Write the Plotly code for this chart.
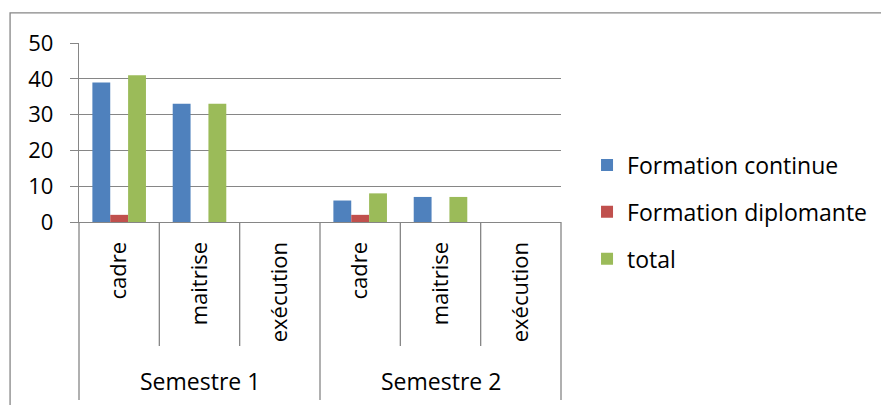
import plotly.graph_objects as go

# Chart data
semesters = ["Semestre 1", "Semestre 2"]
categories = ["cadre", "maitrise", "exécution"]
formation_continue = [39, 33, 0, 6, 7, 0]
formation_diplomante = [2, 0, 0, 2, 0, 0]
total = [41, 33, 0, 8, 7, 0]

series = [
    ("Formation continue", formation_continue, "#4F81BD"),
    ("Formation diplomante", formation_diplomante, "#C0504D"),
    ("total", total, "#9BBB59"),
]

GRID = "#868686"
FONT = "Open Sans"
SIZE = 22
BIG = 23

n_cat = len(categories)
positions = list(range(len(semesters) * n_cat))
tick_text = categories * len(semesters)

fig = go.Figure()
for i, (name, vals, color) in enumerate(series):
    fig.add_trace(go.Bar(
        x=positions, y=vals, name=name, legendgroup=f"g{i}",
        marker=dict(color=color, line=dict(width=0)),
    ))

x_min, x_max = -0.5, len(positions) - 0.5


def to_paper(v):
    return (v - x_min) / (x_max - x_min)


shapes = []
# boundaries between inner categories; semester boundaries run longer
for b in range(len(positions) + 1):
    outer = b % n_cat == 0
    shapes.append(dict(
        type="line", xref="paper", yref="paper",
        x0=to_paper(b - 0.5), x1=to_paper(b - 0.5),
        y0=0, y1=-0.994 if outer else -0.693,
        line=dict(color=GRID, width=1.3),
    ))
# chart frame
shapes.append(dict(
    type="rect", xref="paper", yref="paper",
    x0=-0.143, x1=2.0, y0=-2.0, y1=1.168,
    line=dict(color=GRID, width=1.3), fillcolor="rgba(0,0,0,0)",
))

annotations = []
for s, sem in enumerate(semesters):
    center = s * n_cat + (n_cat - 1) / 2
    annotations.append(dict(
        x=to_paper(center), y=-0.89, xref="paper", yref="paper",
        text=sem, showarrow=False, xanchor="center", yanchor="middle",
        font=dict(family=FONT, size=BIG, color="#000000"),
    ))

fig.update_layout(
    width=881, height=405,
    margin=dict(l=79, r=320, t=43, b=183, autoexpand=False),
    paper_bgcolor="white", plot_bgcolor="white",
    barmode="group", bargap=0.333, bargroupgap=0,
    font=dict(family=FONT, size=SIZE, color="#000000"),
    showlegend=True,
    legend=dict(
        x=1.054, y=0.056, xanchor="left", yanchor="middle",
        font=dict(family=FONT, size=BIG, color="#000000"),
        tracegroupgap=14, bgcolor="rgba(0,0,0,0)",
    ),
    shapes=shapes,
    annotations=annotations,
)
fig.update_xaxes(
    range=[x_min, x_max], tickvals=positions, ticktext=tick_text,
    tickangle=-90, ticks="", showgrid=False, zeroline=False,
    showline=True, linecolor=GRID, linewidth=1.3,
    ticklabelstandoff=10, automargin=False,
    tickfont=dict(family=FONT, size=SIZE, color="#000000"),
)
fig.update_yaxes(
    range=[0, 50], dtick=10, showgrid=True, gridcolor=GRID, gridwidth=1.3,
    zeroline=False, showline=True, linecolor=GRID, linewidth=1.3,
    ticks="outside", ticklen=8, tickcolor=GRID, tickwidth=1.3,
    ticklabelstandoff=12, automargin=False,
    tickfont=dict(family=FONT, size=SIZE, color="#000000"),
)

fig.write_html("out.html")
